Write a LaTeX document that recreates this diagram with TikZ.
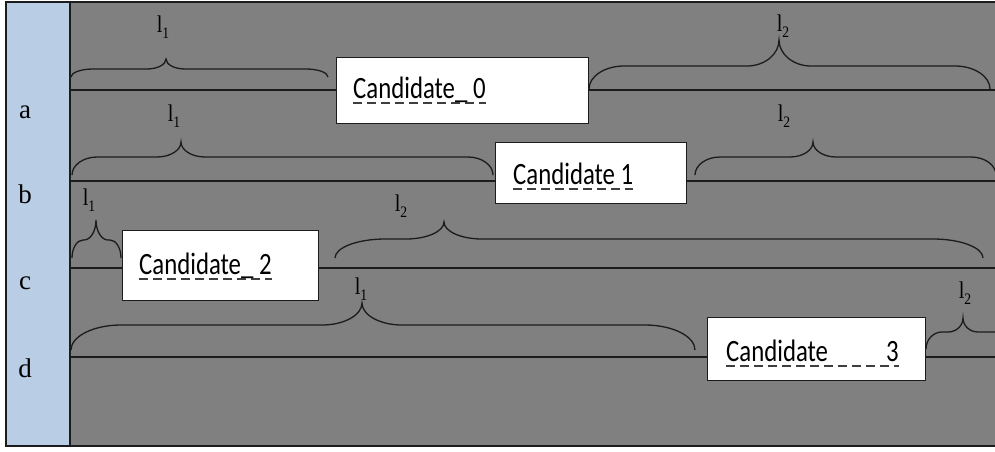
\documentclass[tikz,border=0pt]{standalone}
\usepackage{fontspec}
\setmainfont{Liberation Serif}
\newfontfamily\candfont[FakeStretch=0.8]{Carlito}
\newfontfamily\lenfont[FakeStretch=0.85]{Liberation Serif}

\definecolor{panelgray}{RGB}{128,128,128}
\definecolor{rowblue}{RGB}{185,205,228}
\definecolor{inkdark}{RGB}{28,28,28}

% length label: an upright l with a lowered index
\newcommand{\lsub}[2]{#1\raisebox{-6pt}{\fontsize{16}{16}\selectfont #2}}

% curly brace: x-left, x-right, x-tip, y-ends, y-flat, y-tip, corner run, tip run
\newcommand{\curlybrace}[8]{%
  \draw[curly] (#1,#4) .. controls (#1,{#4-0.55*(#4-#5)}) and ({#1+0.45*#7},#5) .. ({#1+#7},#5)
    -- ({#3-#8},#5) .. controls ({#3-0.45*#8},#5) and (#3,{#5-0.45*(#5-#6)}) .. (#3,#6)
    .. controls (#3,{#5-0.45*(#5-#6)}) and ({#3+0.45*#8},#5) .. ({#3+#8},#5)
    -- ({#2-#7},#5) .. controls ({#2-0.45*#7},#5) and (#2,{#4-0.55*(#4-#5)}) .. (#2,#4);}

\tikzset{
  frame/.style={draw=inkdark, line width=1.3pt},
  timeline/.style={draw=inkdark, line width=1.8pt},
  curly/.style={draw=inkdark, line width=1.3pt},
  candbox/.style={draw=inkdark, fill=white, line width=1.3pt, rectangle,
    inner sep=0pt, anchor=north west},
  candtext/.style={inner sep=0pt, anchor=base west,
    font=\candfont\fontsize{31}{31}\selectfont},
  spellmark/.style={draw=inkdark!85, line width=1.5pt, dash pattern=on 9pt off 5pt},
  rowlabel/.style={inner sep=0pt, anchor=base, font=\fontsize{27}{27}\selectfont},
  lenlabel/.style={inner sep=0pt, font=\lenfont\fontsize{24}{24}\selectfont},
}

\begin{document}
\begin{tikzpicture}[x=1pt,y=-1pt]
\useasboundingbox (0,0) rectangle (995,451);

% panels and frame
\fill[rowblue] (6,2) rectangle (70,446);
\fill[panelgray] (70,2) rectangle (1002,446);
\draw[frame] (1002,2) -- (6,2) -- (6,446) -- (1002,446);
\draw[frame] (70,2) -- (70,446);

% row names
\node[rowlabel] (rowa) at (25,118) {a};
\node[rowlabel] (rowb) at (25,203) {b};
\node[rowlabel] (rowc) at (25,289) {c};
\node[rowlabel] (rowd) at (25,377) {d};

% time lines
\coordinate (aL) at (70,90);  \coordinate (aR) at (1000,90);
\coordinate (bL) at (70,181); \coordinate (bR) at (1000,181);
\coordinate (cL) at (70,268); \coordinate (cR) at (1000,268);
\coordinate (dL) at (70,357); \coordinate (dR) at (1000,357);
\draw[timeline] (aL) -- (aR);
\draw[timeline] (bL) -- (bR);
\draw[timeline] (cL) -- (cR);
\draw[timeline] (dL) -- (dR);

% braces
\curlybrace{71}{328}{166}{77}{69}{59}{22}{19}
\curlybrace{589}{990}{779}{89}{66}{40}{35}{32}
\curlybrace{72}{493}{181}{175}{157}{142}{25}{24}
\curlybrace{695}{996}{813}{175}{157}{142}{25}{23}
\curlybrace{72}{121}{96}{258}{240}{220}{11}{12}
\curlybrace{335}{983}{444}{258}{239}{222}{50}{38}
\curlybrace{71}{695}{362}{350}{325}{303}{50}{40}
\curlybrace{926}{1020}{963}{349}{332}{318}{16}{15}

% brace labels
\node[lenlabel] (la1) at (163,27)  {\lsub{l}{1}};
\node[lenlabel] (la2) at (783,26)  {\lsub{l}{2}};
\node[lenlabel] (lb1) at (174,116) {\lsub{l}{1}};
\node[lenlabel] (lb2) at (784,116) {\lsub{l}{2}};
\node[lenlabel] (lc1) at (89,200)  {\lsub{l}{1}};
\node[lenlabel] (lc2) at (401,206) {\lsub{l}{2}};
\node[lenlabel] (ld1) at (361,289) {\lsub{l}{1}};
\node[lenlabel] (ld2) at (965,293) {\lsub{l}{2}};

% candidate boxes
\node[candbox, minimum width=252pt, minimum height=66pt] (cand0) at (336,57) {};
\node[candbox, minimum width=191pt, minimum height=61pt] (cand1) at (495,142) {};
\node[candbox, minimum width=196pt, minimum height=70pt] (cand2) at (122,230) {};
\node[candbox, minimum width=218pt, minimum height=63pt] (cand3) at (707,317) {};

\node[candtext] (cand0txt) at (353,98)  {Candidate\_ 0};
\node[candtext] (cand1txt) at (513,184) {Candidate 1};
\node[candtext] (cand2txt) at (139,274) {Candidate\_ 2};
\node[candtext] (cand3txt) at (726,361) {Candidate\hspace*{58pt}3};

\foreach \t in {cand0txt,cand1txt,cand2txt,cand3txt}
  \draw[spellmark] ([yshift=-5pt]\t.base west) -- ([yshift=-5pt]\t.base east);
\end{tikzpicture}
\end{document}
